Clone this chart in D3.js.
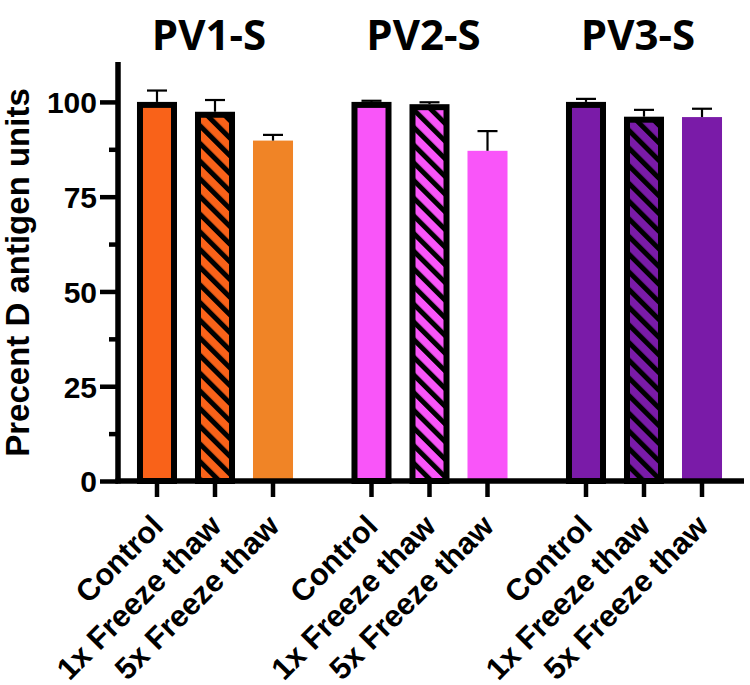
<!DOCTYPE html>
<html>
<head>
<meta charset="utf-8">
<script src="https://cdn.jsdelivr.net/npm/d3@7"></script>
<style>
  html, body { margin: 0; padding: 0; background: #fff; }
  svg { display: block; }
</style>
</head>
<body>
<svg id="chart" width="750" height="685"></svg>
<script>
// ---- data ----
const groups = ["PV1-S", "PV2-S", "PV3-S"];
const conditions = ["Control", "1x Freeze thaw", "5x Freeze thaw"];
const meanPV1 = [100, 97.4, 89.8];
const errPV1 = [3.0, 3.1, 1.5];
const meanPV2 = [100, 99.4, 87.1];
const errPV2 = [0.3, 0.5, 5.2];
const meanPV3 = [100, 96.1, 96.0];
const errPV3 = [0.8, 1.8, 2.2];
const colorsPV1 = ["#F96219", "#F96219", "#F08426"];
const colorsPV2 = ["#F955F9", "#F955F9", "#F955F9"];
const colorsPV3 = ["#7A1BA8", "#7A1BA8", "#7A1BA8"];
const yTicks = [0, 25, 50, 75, 100];
const yMinorTicks = [12.5, 37.5, 62.5, 87.5];
const yLabel = "Precent D antigen units";

const means = [meanPV1, meanPV2, meanPV3];
const errs = [errPV1, errPV2, errPV3];
const colors = [colorsPV1, colorsPV2, colorsPV3];

const rows = [];
groups.forEach((g, gi) => {
  conditions.forEach((c, ci) => {
    rows.push({group: g, cond: c, ci, gi, value: means[gi][ci], err: errs[gi][ci], color: colors[gi][ci]});
  });
});

const svg = d3.select("#chart");
const x0 = 118, yBase = 481;

const y = d3.scaleLinear().domain([0, 110]).range([yBase, 64]);
const xG = d3.scaleBand().domain(groups).range([107.75, 751.25]).padding(0);
const xC = d3.scaleBand().domain(conditions).range([0, xG.bandwidth()])
  .paddingInner(0.31).paddingOuter(0.504);
const bw = xC.bandwidth();

// hatch patterns
const defs = svg.append("defs");
const hp = 12.5, hb = 5;
groups.forEach((g, gi) => {
  const p = defs.append("pattern")
    .attr("id", "hatch" + gi)
    .attr("patternUnits", "userSpaceOnUse")
    .attr("width", hp).attr("height", hp)
    .attr("patternTransform", "rotate(-45)");
  p.append("rect").attr("width", hp).attr("height", hp).attr("fill", colors[gi][1]);
  p.append("rect").attr("width", hb).attr("height", hp).attr("fill", "#000");
});

const font = "'Liberation Sans', Arial, sans-serif";

// bars
const bars = svg.append("g");
rows.forEach(d => {
  const cx = xG(d.group) + xC(d.cond);
  const top = y(d.value);
  if (d.ci === 2) {
    bars.append("rect").attr("x", cx).attr("y", top).attr("width", bw)
      .attr("height", yBase - top).attr("fill", d.color);
  } else {
    const sw = 6;
    bars.append("rect").attr("x", cx + sw / 2).attr("y", top + sw / 2)
      .attr("width", bw - sw).attr("height", yBase - top - sw / 2)
      .attr("fill", d.ci === 1 ? `url(#hatch${d.gi})` : d.color)
      .attr("stroke", "#000").attr("stroke-width", sw);
  }
  // error bar
  const mx = cx + bw / 2;
  const capY = y(d.value + d.err);
  bars.append("line").attr("x1", mx).attr("x2", mx).attr("y1", top).attr("y2", capY)
    .attr("stroke", "#000").attr("stroke-width", 2.2);
  bars.append("line").attr("x1", mx - 10).attr("x2", mx + 10).attr("y1", capY).attr("y2", capY)
    .attr("stroke", "#000").attr("stroke-width", 2.2);
});

// y axis
const yAxis = d3.axisLeft(y).tickValues(yTicks).tickSize(18).tickPadding(3).tickSizeOuter(0);
const gy = svg.append("g").attr("transform", `translate(${x0},0)`).call(yAxis);
gy.select(".domain").attr("stroke-width", 5.5).attr("d", `M0,${y(110) - 2}V${yBase + 2.5}`);
gy.selectAll(".tick line").attr("stroke-width", 4.5);
gy.selectAll(".tick text").attr("font-family", font).attr("font-weight", "bold")
  .attr("font-size", 30).attr("fill", "#000").attr("dy", "0.36em");
const yMinor = d3.axisLeft(y).tickValues(yMinorTicks).tickSize(9).tickFormat("");
const gym = svg.append("g").attr("transform", `translate(${x0},0)`).call(yMinor);
gym.select(".domain").remove();
gym.selectAll(".tick line").attr("stroke-width", 4.5);

// x axis
const xPos = d3.scaleOrdinal().domain(rows.map(d => d.group + "|" + d.cond))
  .range(rows.map(d => xG(d.group) + xC(d.cond) + bw / 2));
const gx = svg.append("g").attr("transform", `translate(0,${yBase})`);
gx.append("line").attr("x1", x0 - 2.5).attr("x2", 744).attr("y1", 0).attr("y2", 0)
  .attr("stroke", "#000").attr("stroke-width", 5.5);
rows.forEach(d => {
  const tx = xPos(d.group + "|" + d.cond);
  gx.append("line").attr("x1", tx).attr("x2", tx).attr("y1", 0).attr("y2", 16)
    .attr("stroke", "#000").attr("stroke-width", 4.5);
  gx.append("text")
    .attr("transform", `translate(${tx + 8},${47}) rotate(-45)`)
    .attr("text-anchor", "end")
    .attr("font-family", font).attr("font-weight", "bold").attr("font-size", 30.5)
    .attr("fill", "#000")
    .text(d.cond);
});

// group titles
groups.forEach(g => {
  svg.append("text")
    .attr("x", xG(g) + xG.bandwidth() / 2 - 6)
    .attr("y", 50)
    .attr("text-anchor", "middle")
    .attr("font-family", "'Open Sans', sans-serif").attr("font-weight", "bold")
    .attr("font-size", 42).attr("fill", "#000")
    .text(g);
});

// y label
svg.append("text")
  .attr("transform", `translate(29,${272.5}) rotate(-90)`)
  .attr("text-anchor", "middle")
  .attr("font-family", font).attr("font-weight", "bold").attr("font-size", 33)
  .attr("fill", "#000")
  .text(yLabel);
</script>
</body>
</html>
